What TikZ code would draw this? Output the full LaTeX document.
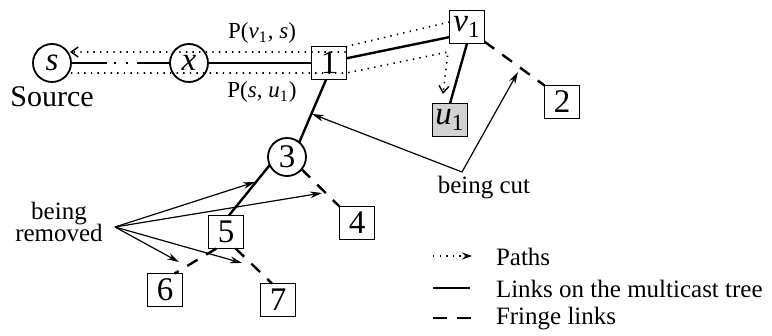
\documentclass[tikz,border=0pt]{standalone}
\usepackage{fontspec}
\setmainfont{Liberation Serif}
\usetikzlibrary{calc,arrows.meta}

\begin{document}
\begin{tikzpicture}[x=0.5pt,y=-0.5pt,
  every node/.style={inner sep=0pt,outer sep=0pt},
  nodetext/.style={font=\fontsize{16.5}{16.5}\selectfont},
  lbl/.style={font=\fontsize{12.5}{13}\selectfont},
  boxnode/.style={draw,line width=0.9pt,minimum width=17.5pt,minimum height=16.5pt,nodetext},
  circnode/.style={draw,circle,line width=0.9pt,minimum size=19pt,nodetext},
  tree/.style={line width=1.2pt},
  fringe/.style={line width=1.2pt,dash pattern=on 6pt off 5pt},
  pathline/.style={line width=0.8pt,dash pattern=on 0.7pt off 2.6pt,
    -{Straight Barb[length=3.5pt,width=5pt,line width=0.7pt]}},
  pointer/.style={line width=0.6pt,-{Stealth[length=6pt,width=3.4pt]}}
]
\useasboundingbox (0,0) rectangle (772,336);

% nodes of the tree
\node[circnode] (s)  at (52,63)  {\itshape s};
\node[circnode] (x)  at (189,63) {\itshape x};
\node[boxnode]  (n1) at (329,63) {1};
\node[boxnode]  (v1) at (467,27) {{\itshape v}\textsubscript{1}};
\node[boxnode,fill=gray!35] (u1) at (450,120) {{\itshape u}\textsubscript{1}};
\node[boxnode]  (n2) at (562,102) {2};
\node[circnode] (n3) at (287,157) {3};
\node[boxnode]  (n4) at (357,223) {4};
\node[boxnode]  (n5) at (226,232) {5};
\node[boxnode]  (n6) at (165,290) {6};
\node[boxnode]  (n7) at (278,300) {7};

% text labels
\node[font=\fontsize{15}{15}\selectfont] (src) at (52,97) {Source};
\node[font=\fontsize{11.5}{12}\selectfont] (pvs) at (262,33) {P({\itshape v}\textsubscript{1}, {\itshape s})};
\node[font=\fontsize{11.5}{12}\selectfont] (psu) at (262,92) {P({\itshape s}, {\itshape u}\textsubscript{1})};
\node[lbl] (cut) at (484,188) {being cut};
\node[lbl,align=center] (rem) at (59,222) {being\\[-2pt]removed};

% links on the multicast tree
\draw[tree,dash pattern=on 18pt off 3.5pt on 1pt off 5pt on 1pt off 4.5pt on 40pt] (s.east) -- (x.west);
\draw[tree] (x.east) -- (n1.west);
\draw[tree] (n1.15) -- (v1.210);
\draw[tree] (v1.south) -- (u1.north);
\draw[tree] (n1.260) -- (n3.50);
\draw[tree] (n3.205) -- (n5.80);

% fringe links
\draw[fringe] (v1.-40) -- (n2.north west);
\draw[fringe] (n3.-40) -- (n4.north west);
\draw[fringe] (n5.240) -- (n6.60);
\draw[fringe] (n5.300) -- (n7.110);

% paths P(v1,s) and P(s,u1)
\draw[pathline] ($(v1.west)+(0,-5)$) -- (n1.north east) -- ($(n1.east)+(0,-11)$)
  -- ($(s.center)+(18,-11)$);
\draw[pathline] ($(s.center)+(19,10)$) -- ($(n1.east)+(0,10)$)
  -- ($(v1.south west)+(-1.5,8.5)$) -- ($(u1.north)+(-7,-9.5)$);

% pointers
\coordinate (cutfrom) at (462,172);
\coordinate (cuta) at (312,114);
\coordinate (cutb) at (518,72);
\draw[pointer] (cutfrom) -- (cuta);
\draw[pointer] (cutfrom) -- (cutb);

\coordinate (remfrom) at (115,227);
\coordinate (t35) at (255,182);
\coordinate (t34) at (322,193);
\coordinate (t56) at (179,262);
\coordinate (t57) at (242,263);
\draw[pointer] (remfrom) -- (t35);
\draw[pointer] (remfrom) -- (t34);
\draw[pointer] (remfrom) -- (t56);
\draw[pointer] (remfrom) -- (t57);

% legend
\coordinate (la1) at (433,256); \coordinate (la2) at (472,256);
\draw[line width=0.8pt,dash pattern=on 0.7pt off 2.6pt,-{Stealth[length=5pt,width=3.5pt]}] (la1) -- (la2);
\node[lbl,anchor=west] (lpaths) at (496,257) {Paths};
\coordinate (lb1) at (433,288); \coordinate (lb2) at (470,288);
\draw[line width=0.9pt] (lb1) -- (lb2);
\node[lbl,anchor=west] (llinks) at (496,289) {Links on the multicast tree};
\coordinate (lc1) at (433,318); \coordinate (lc2) at (472,318);
\draw[line width=0.9pt,dash pattern=on 7pt off 5pt] (lc1) -- (lc2);
\node[lbl,anchor=west] (lfringe) at (496,319) {Fringe links};
\end{tikzpicture}
\end{document}
